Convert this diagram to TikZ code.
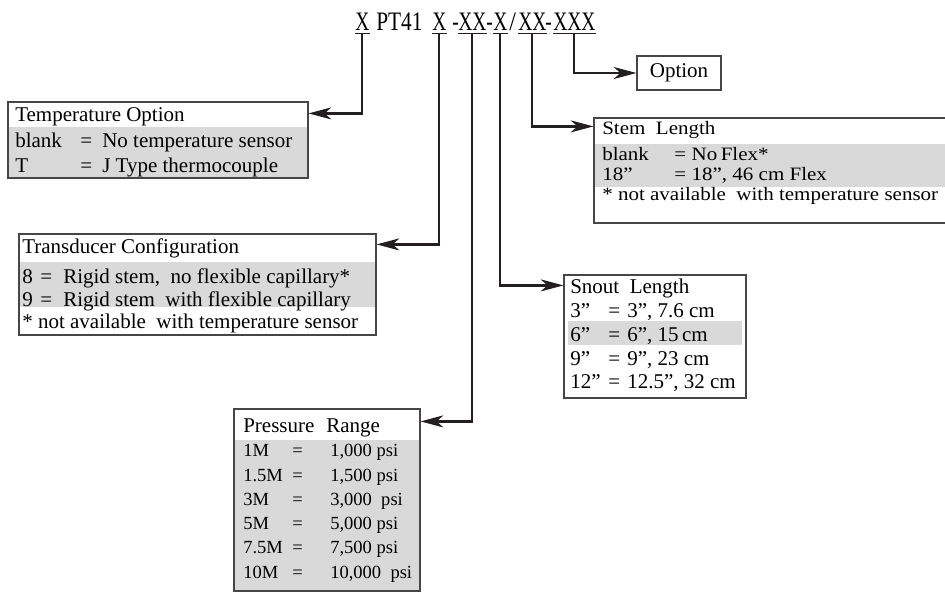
\documentclass[tikz,border=0pt]{standalone}
\usepackage{fontspec}
\setmainfont{Liberation Serif}
\usepackage{graphicx}
\usepackage{xcolor}
\usetikzlibrary{arrows.meta, positioning, fit, calc}

\definecolor{rowgray}{RGB}{217,217,217}
\definecolor{framegray}{RGB}{70,70,70}
\definecolor{inkline}{RGB}{35,31,32}

\newcommand{\cellfont}{\fontsize{15.75}{18}\selectfont}
\newcommand{\smallcell}{\fontsize{13.9}{16}\selectfont}
\newcommand{\titlefont}{\fontsize{20}{22}\selectfont}
\newcommand{\kvrow}[4]{\makebox[#1][l]{#3}\makebox[#2][l]{=}#4}
\newcommand{\narrow}[1]{\scalebox{0.73}[1]{#1}}
\newcommand{\squash}[1]{\scalebox{1}[0.9]{#1}}

\begin{document}
\begin{tikzpicture}[x=0.75pt, y=-0.75pt,
  title/.style={anchor=base west, inner sep=0pt, font=\titlefont},
  cell/.style={anchor=base west, inner sep=0pt, font=\cellfont},
  pcell/.style={anchor=base west, inner sep=0pt, font=\smallcell},
  frame/.style={draw=framegray, line width=0.9pt, inner sep=0pt},
  optbox/.style={draw=framegray, line width=0.9pt, minimum width=63pt,
    minimum height=25.5pt, inner sep=0pt, font=\cellfont},
  uline/.style={draw=inkline, line width=1.1pt},
  arrow/.style={draw=inkline, line width=1.7pt, -{Stealth[length=17pt, width=9pt, inset=5pt]}}
]
\useasboundingbox (0,0) rectangle (945,592);

% model code
\node[title] (ux1) at (355,31) {\narrow{X}};
\node[title] (tPT) at (376,31) {\scalebox{0.8}[1]{PT41}};
\node[title] (ux2) at (432,31) {\narrow{X}};
\node[title] (tDash1) at (452,31) {\narrow{-}};
\node[title] (ux3) at (458,31) {\narrow{XX}};
\node[title] (tDash2) at (486,31) {\narrow{-}};
\node[title] (ux4) at (493,31) {\narrow{X}};
\node[title] (tSlash) at (509,31) {\scalebox{0.9}[1]{/}};
\node[title] (ux5) at (518,31) {\narrow{XX}};
\node[title] (tDash3) at (545,31) {\narrow{-}};
\node[title] (ux6) at (553,31) {\narrow{XXX}};
\foreach \u in {1,...,6}
  \draw[uline] ([yshift=-1.9pt]ux\u.base west) -- ([yshift=-1.9pt]ux\u.base east);

\node[optbox] (opt) at (679,73) {Option};

% temperature option
\fill[rowgray] (8,127) rectangle (308,178);
\node[frame, fit={(8,102) (308,178)}] (temp) {};
\node[cell] (tempHead) at (15,121) {Temperature Option};
\node[cell] (tempR1) at (15,147) {\kvrow{48.75pt}{16.5pt}{blank}{No temperature sensor}};
\node[cell] (tempR2) at (15,172) {\kvrow{48.75pt}{16.5pt}{T}{J Type thermocouple}};

% transducer configuration
\fill[rowgray] (19,262) rectangle (376,307);
\node[frame, fit={(19,234) (376,335)}] (trans) {};
\node[cell] (transHead) at (22,253) {Transducer Configuration};
\node[cell] (transR1) at (22,283) {\kvrow{13.5pt}{17.25pt}{8}{Rigid stem,\ \ no flexible capillary*}};
\node[cell] (transR2) at (22,306) {\kvrow{13.5pt}{17.25pt}{9}{Rigid stem\ \ with flexible capillary}};
\node[cell] (transFoot) at (22,328) {* not available\ \ with temperature sensor};

% stem length
\fill[rowgray] (594,144) rectangle (948,187);
\node[frame, fit={(594,118) (948,223)}] (stem) {};
\node[cell] (stemHead) at (602,134) {\squash{Stem\ \ Length}};
\node[cell] (stemR1) at (602,160) {\squash{\kvrow{54pt}{13pt}{blank}{No\,Flex*}}};
\node[cell] (stemR2) at (602,180) {\squash{\kvrow{54pt}{13pt}{18”}{18”, 46 cm Flex}}};
\node[cell] (stemFoot) at (602,200) {\squash{* not available\ \ with temperature sensor}};

% snout length
\fill[rowgray] (568,321) rectangle (742,345);
\node[frame, fit={(564,275) (746,398)}] (snout) {};
\node[cell] (snoutHead) at (570,293) {Snout\ \ Length};
\node[cell] (snoutR1) at (570,317) {\kvrow{28.5pt}{14.25pt}{3”}{3”, 7.6 cm}};
\node[cell] (snoutR2) at (570,341) {\kvrow{28.5pt}{14.25pt}{6”}{6”, 15\,cm}};
\node[cell] (snoutR3) at (570,365) {\kvrow{28.5pt}{14.25pt}{9”}{9”, 23 cm}};
\node[cell] (snoutR4) at (570,388) {\kvrow{28.5pt}{14.25pt}{12”}{12.5”, 32 cm}};

% pressure range
\fill[rowgray] (234,440) rectangle (420,591);
\node[frame, fit={(234,409) (420,591)}] (press) {};
\node[cell] (pressHead) at (243,432) {Pressure\hspace{5pt} Range};
\node[pcell] (pressR1) at (243,456) {\kvrow{36.75pt}{28.5pt}{1M}{1,000 psi}};
\node[pcell] (pressR2) at (243,481) {\kvrow{36.75pt}{28.5pt}{1.5M}{1,500 psi}};
\node[pcell] (pressR3) at (243,505) {\kvrow{36.75pt}{28.5pt}{3M}{3,000\ \ psi}};
\node[pcell] (pressR4) at (243,529) {\kvrow{36.75pt}{28.5pt}{5M}{5,000 psi}};
\node[pcell] (pressR5) at (243,553) {\kvrow{36.75pt}{28.5pt}{7.5M}{7,500 psi}};
\node[pcell] (pressR6) at (243,578) {\kvrow{36.75pt}{28.5pt}{10M}{10,000\ \ psi}};

\draw[arrow] ([yshift=-1.9pt]ux1.base) |- ([yshift=-9pt]temp.north east);
\draw[arrow] ([yshift=-1.9pt]ux2.base) |- ([yshift=-8.25pt]trans.north east);
\draw[arrow] ([yshift=-1.9pt]ux3.base) |- ([yshift=-9.75pt]press.north east);
\draw[arrow] ([yshift=-1.9pt]ux4.base) |- ([yshift=-8.25pt]snout.north west);
\draw[arrow] ([yshift=-1.9pt]ux5.base) |- ([yshift=-6.75pt]stem.north west);
\draw[arrow] ([yshift=-1.9pt]ux6.base) |- (opt.west);

\end{tikzpicture}
\end{document}
